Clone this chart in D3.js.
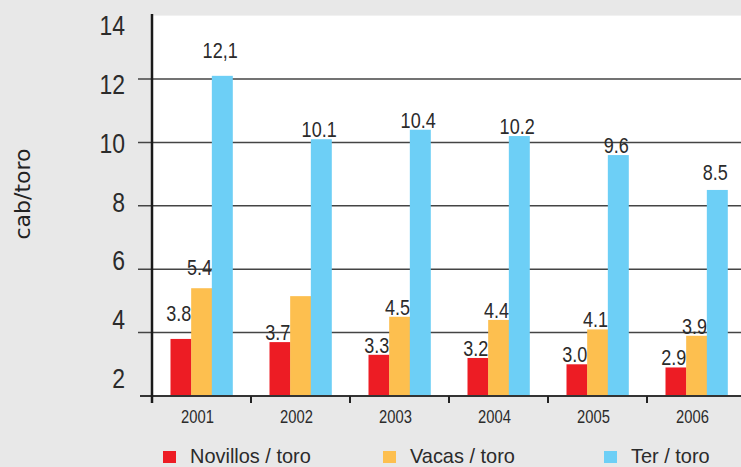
<!DOCTYPE html>
<html>
<head>
<meta charset="utf-8">
<script src="https://cdn.jsdelivr.net/npm/d3@7"></script>
<style>
  body { margin: 0; background: #e8e8e8; }
  svg { display: block; }
</style>
</head>
<body>
<div id="chart"></div>
<script>
// data
let years = ["2001", "2002", "2003", "2004", "2005", "2006"];
let seriesNames = ["Novillos / toro", "Vacas / toro", "Ter / toro"];
let novillos = [3.8, 3.7, 3.3, 3.2, 3.0, 2.9];
let vacas = [5.4, 5.15, 4.5, 4.4, 4.1, 3.9];
let ter = [12.1, 10.1, 10.4, 10.2, 9.6, 8.5];
// printed labels (null = no label in the original)
let novillosLabels = ["3.8", "3.7", "3.3", "3.2", "3.0", "2.9"];
let vacasLabels = ["5.4", null, "4.5", "4.4", "4.1", "3.9"];
let terLabels = ["12,1", "10.1", "10.4", "10.2", "9.6", "8.5"];
let yTicks = [2, 4, 6, 8, 10, 12, 14];

let colors = ["#ed1c24", "#fdbf4f", "#6dcff6"];
// a few labels sit higher above their bar in the original
let labelLift = { "3.8": 16, "5.4": 11, "12,1": 16, "8.5": 8 };

let width = 741, height = 467;
// no narrow font installed: squeeze Liberation Sans horizontally instead
let squeeze = 0.82;
let txtFont = "'Liberation Sans', Arial, sans-serif";

let svg = d3.select("#chart").append("svg")
    .attr("width", width)
    .attr("height", height)
    .style("background", "#e8e8e8");

function narrowText(sel, px, py, sx) {
  return sel.attr("transform", function(d, i) {
      return "translate(" + px(d, i) + "," + py(d, i) + ") scale(" + (sx || squeeze) + ",1)";
    })
    .style("font-family", txtFont)
    .style("fill", "#2b2b2b");
}

let x = d3.scaleBand()
    .domain(years)
    .range([152, 746]);

let xInner = d3.scaleBand()
    .domain(d3.range(3))
    .range([0, 62]);

let y = d3.scaleLinear()
    .domain([2, 14])
    .range([396, 15.6]);

// tick labels in the original sit on their own spacing
let yLabel = d3.scaleLinear()
    .domain([2, 14])
    .range([378, 25]);

// plot background
svg.append("rect")
    .attr("x", 153)
    .attr("y", y(14))
    .attr("width", width - 153)
    .attr("height", y(2) - y(14))
    .attr("fill", "#fff");

// gridlines
svg.selectAll("line.grid")
  .data(yTicks.filter(d => d > 2 && d < 14))
  .enter().append("line")
    .attr("class", "grid")
    .attr("x1", 138).attr("x2", width)
    .attr("y1", d => y(d)).attr("y2", d => y(d))
    .attr("stroke", "#444")
    .attr("stroke-width", 1.5);

let table = years.map((yr, i) => ({
  year: yr,
  values: [novillos[i], vacas[i], ter[i]],
  labels: [novillosLabels[i], vacasLabels[i], terLabels[i]]
}));

let groups = svg.selectAll("g.year")
  .data(table)
  .enter().append("g")
    .attr("class", "year")
    .attr("transform", d => "translate(" + (x(d.year) + (x.bandwidth() - 62) / 2) + ",0)");

groups.selectAll("rect")
  .data(d => d.values.map((v, k) => ({ v: v, k: k, label: d.labels[k] })))
  .enter().append("rect")
    .attr("x", d => xInner(d.k))
    .attr("y", d => y(d.v))
    .attr("width", xInner.bandwidth() + 0.3)
    .attr("height", d => y(2) - y(d.v))
    .attr("fill", d => colors[d.k]);

groups.selectAll("text")
  .data(d => d.values.map((v, k) => ({ v: v, k: k, label: d.labels[k] })).filter(d => d.label))
  .enter().append("text")
    .call(narrowText,
      d => xInner(d.k) + xInner.bandwidth() / 2 - 2,
      d => y(d.v) - 2 - (labelLift[d.label] || 0))
    .attr("text-anchor", "middle")
    .style("font-size", "22px")
    .text(d => d.label);

// baseline
svg.append("line")
    .attr("x1", 140).attr("x2", width)
    .attr("y1", y(2)).attr("y2", y(2))
    .attr("stroke", "#333")
    .attr("stroke-width", 2);

// category separator ticks
svg.selectAll("line.xtick")
  .data(years.slice(1))
  .enter().append("line")
    .attr("class", "xtick")
    .attr("x1", d => x(d)).attr("x2", d => x(d))
    .attr("y1", y(2)).attr("y2", y(2) + 7)
    .attr("stroke", "#222")
    .attr("stroke-width", 2);

// y axis line
svg.append("line")
    .attr("x1", 152).attr("x2", 152)
    .attr("y1", 14).attr("y2", 403)
    .attr("stroke", "#1a1a1a")
    .attr("stroke-width", 2.5);

// y tick labels
svg.selectAll("text.ytick")
  .data(yTicks)
  .enter().append("text")
    .attr("class", "ytick")
    .call(narrowText, d => 125, d => yLabel(d))
    .attr("dy", "0.36em")
    .attr("text-anchor", "end")
    .style("font-size", "28px")
    .text(d => d);

// x labels
svg.selectAll("text.xlabel")
  .data(years)
  .enter().append("text")
    .attr("class", "xlabel")
    .call(narrowText, d => x(d) + x.bandwidth() / 2 - 4, d => 423)
    .attr("text-anchor", "middle")
    .style("font-size", "18px")
    .text(d => d);

// y title
svg.append("text")
    .attr("transform", "translate(30,194) rotate(-90)")
    .attr("text-anchor", "middle")
    .style("font-family", "'DejaVu Sans', sans-serif")
    .style("font-size", "22px")
    .style("fill", "#222")
    .text("cab/toro");

// legend
let legendX = [163, 383, 604];
let legend = svg.selectAll("g.legend")
  .data(seriesNames)
  .enter().append("g")
    .attr("class", "legend")
    .attr("transform", (d, i) => "translate(" + legendX[i] + ",451)");

legend.append("rect")
    .attr("width", 13)
    .attr("height", 12)
    .attr("fill", (d, i) => colors[i]);

legend.append("text")
    .call(narrowText, d => 27, d => 12, 0.95)
    .style("font-size", "21px")
    .text(d => d);
</script>
</body>
</html>
